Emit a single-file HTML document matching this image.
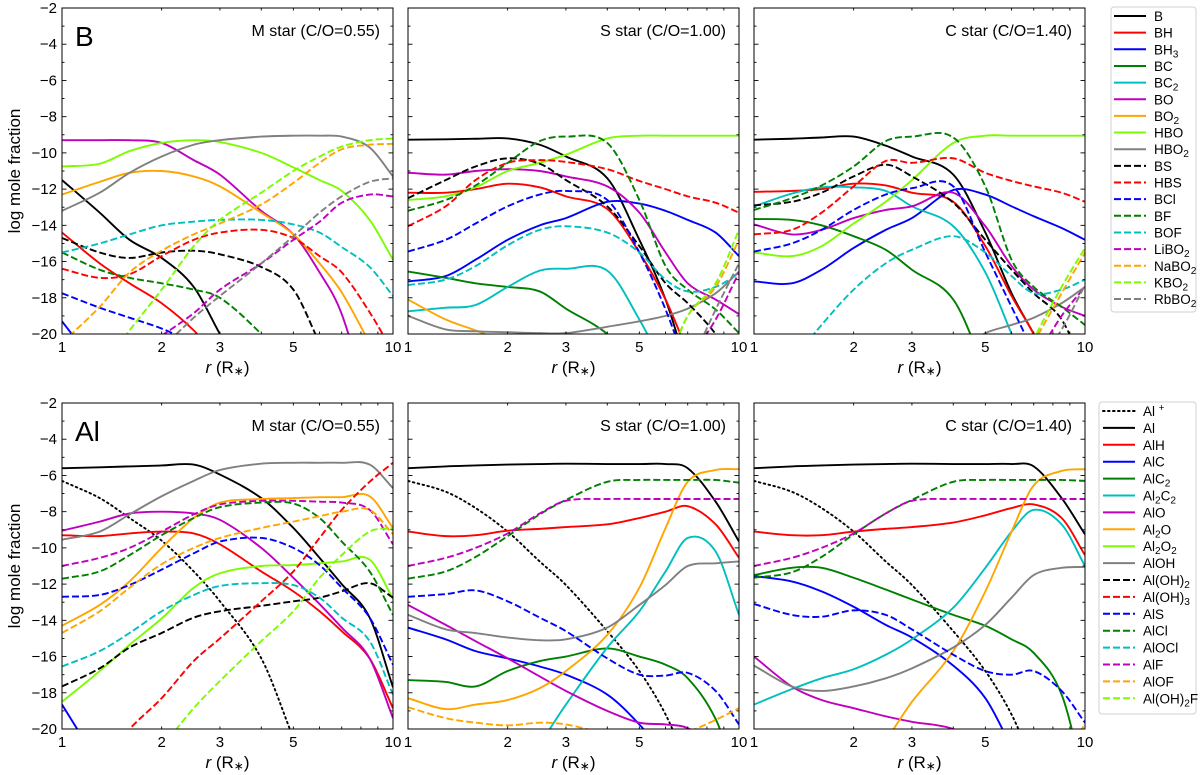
<!DOCTYPE html>
<html><head><meta charset="utf-8">
<style>
html,body{margin:0;padding:0;background:#fff;}
svg{display:block;font-family:"Liberation Sans","DejaVu Sans",sans-serif;}
</style></head>
<body>
<svg id="chart" width="1200" height="775" viewBox="0 0 1200 775" xmlns="http://www.w3.org/2000/svg"></svg>
<script>
const N = null;
const radii = [1,1.3,1.6,2,2.5,3,4,5,6,7,8.5,10];
const xTickLabels = [1,2,3,5,10];
const yTickLabels = [-2,-4,-6,-8,-10,-12,-14,-16,-18,-20];
const bSpecies = ["B","BH","BH3","BC","BC2","BO","BO2","HBO","HBO2","BS","HBS","BCl","BF","BOF","LiBO2","NaBO2","KBO2","RbBO2"];
const alSpecies = ["Al+","Al","AlH","AlC","AlC2","Al2C2","AlO","Al2O","Al2O2","AlOH","Al(OH)2","Al(OH)3","AlS","AlCl","AlOCl","AlF","AlOF","Al(OH)2F"];
const panelTitles = ["M star (C/O=0.55)","S star (C/O=1.00)","C star (C/O=1.40)"];

const boronM = [
 [-11.5,-13.3,-14.8,-15.8,-17.4,-20,-24,N,N,N,N,N],
 [-14.4,-16.1,-17.2,-18.3,-19.8,-21.5,N,N,N,N,N,N],
 [-19.3,-22,N,N,N,N,N,N,N,N,N,N],
 [N,N,N,N,N,N,N,N,N,N,N,N],
 [N,N,N,N,N,N,N,N,N,N,N,N],
 [-9.3,-9.3,-9.3,-9.45,-10.4,-11.2,-13.2,-14.5,-16.6,-18.9,-24,N],
 [-12.3,-11.6,-11.1,-11,-11.3,-11.85,-13.3,-14.5,-16.1,-17.7,-20.5,N],
 [-10.75,-10.6,-9.9,-9.45,-9.3,-9.4,-10,-10.8,-11.5,-12.1,-13.7,-15.9],
 [-13.2,-12.2,-11.1,-10.2,-9.55,-9.3,-9.1,-9.05,-9.05,-9.1,-9.7,-11.3],
 [-14.7,-15.5,-15.8,-15.5,-15.4,-15.6,-16.3,-17.55,-20.5,N,N,N],
 [-16.4,-16.9,-16.7,-15.7,-14.8,-14.4,-14.25,-14.7,-15.7,-16.6,-18.8,-21],
 [-17.75,-18.55,-19.1,-19.7,-20.5,N,N,N,N,N,N,N],
 [-15.5,-16.45,-16.9,-17.2,-17.55,-18,-20,-22,N,N,N,N],
 [-15.5,-15,-14.5,-14,-13.8,-13.7,-13.7,-13.95,-14.4,-15.2,-16.3,-17.9],
 [N,N,N,-20.1,-18.85,-17.55,-16.1,-14.8,-13.8,-12.75,-12.3,-12.4],
 [-20.5,-18.5,-16.6,-15.4,-14.5,-13.9,-12.85,-11.66,-10.55,-9.8,-9.55,-9.5],
 [N,-22,-19.8,-17.55,-15.15,-13.7,-12.2,-11,-10.2,-9.65,-9.3,-9.2],
 [N,N,N,-20.8,-19.1,-17.9,-16.1,-14.6,-13.3,-12.4,-11.6,-11.4]
];
const boronS = [
 [-9.27,-9.25,-9.22,-9.2,-9.55,-10.2,-11.4,-14.8,-18.1,-22,N,N],
 [-12.2,-12.2,-12,-11.7,-11.9,-12.4,-13.1,-15.5,-18.1,-21,N,N],
 [-17.1,-16.8,-15.9,-14.8,-14,-13.6,-12.7,-12.8,-13.2,-13.7,-14.4,-15.7],
 [-16.55,-16.9,-17.2,-17.4,-17.65,-18.6,-20,-22,N,N,N,N],
 [-18.75,-18.55,-18.4,-17.4,-16.5,-16.4,-16.5,-19.2,-22,N,N,N],
 [-11.1,-11.2,-11,-10.9,-11,-11.3,-11.85,-13.3,-15.5,-17.2,-18.1,-18.9],
 [-18.1,-19.2,-19.8,-20.5,N,N,N,N,N,N,N,N],
 [-12.6,-12.4,-11.9,-11,-10.55,-10.1,-9.2,-9.05,-9.05,-9.05,-9.05,-9.05],
 [-19,-19.75,-19.85,-19.9,-19.95,-19.95,-19.6,-19.3,-19,-18.6,-17.75,-16.55],
 [-12.5,-11.5,-10.75,-10.3,-10.6,-11.5,-12.95,-15.15,-17.2,-18.3,-20,-22],
 [-14.05,-12.95,-11.5,-10.55,-10.4,-10.5,-10.9,-11.55,-12,-12.4,-12.75,-13.3],
 [-15.45,-14.8,-13.9,-12.95,-12.3,-12.1,-12.6,-15.5,-18.65,-22,N,N],
 [-13.2,-12.6,-11.8,-10.55,-9.35,-9.1,-9.45,-12.6,-16.25,-17.55,-18.65,-19.95],
 [-17.3,-17,-16.25,-15.1,-14.25,-14.05,-14.4,-15.5,-17,-17.65,-17.4,-16.65],
 [N,N,N,N,N,N,N,N,N,-21.5,-19.2,-16.6],
 [N,N,N,N,N,N,N,N,-22,-19,-17.4,-14.8],
 [N,N,N,N,N,N,N,N,-22,-19,-17.2,-14.25],
 [N,N,N,N,N,N,N,N,N,-22,-18.65,-16.1]
];
const boronC = [
 [-9.27,-9.22,-9.15,-9.1,-9.6,-10.2,-11.2,-14.4,-17.75,-20,-23,N],
 [-12.15,-12.1,-12,-11.7,-11.8,-12.2,-12.7,-15.15,-17.9,-20,-23,N],
 [-17.1,-17.2,-16.45,-15.25,-14.25,-13.6,-12.05,-12.3,-12.95,-13.5,-14.15,-14.8],
 [-13.65,-13.7,-14,-14.6,-15.35,-16.45,-18.1,-22,N,N,N,N],
 [-12.95,-12.25,-11.9,-11.9,-12.1,-12.95,-14.05,-16.6,-20,-23,N,N],
 [-13.95,-14.5,-14.25,-13.6,-13.15,-12.95,-12.2,-14.05,-16.25,-17.55,-18.5,-19],
 [N,N,N,N,N,N,N,N,N,N,N,N],
 [-15.5,-15.7,-15.15,-13.9,-12.7,-11.5,-9.45,-9.05,-9.05,-9.05,-9.05,-9.05],
 [N,N,N,N,N,N,-21,-19.95,-19.5,-19.1,-18.3,-17.4],
 [-12.9,-12.7,-12.2,-11.3,-10.65,-11.3,-12.75,-14.8,-16.45,-17.75,-19.2,-22],
 [-14.5,-14.25,-13.3,-11.85,-10.45,-10.55,-10.3,-11.1,-11.55,-11.85,-12.2,-12.7],
 [-15.45,-15,-14.25,-13.15,-12.3,-11.95,-11.85,-15.5,-18.5,-21,N,N],
 [-13.15,-12.5,-11.8,-10.75,-9.35,-9.1,-9.15,-11.85,-15.9,-17.4,-18.5,-19.5],
 [N,-21.5,-19.5,-17.55,-16.1,-15.35,-14.6,-15.5,-16.8,-17.75,-17.55,-17],
 [N,N,N,N,N,N,N,N,N,-21.5,-19,-17.4],
 [N,N,N,N,N,N,N,N,-23,-20.5,-17.75,-15.5],
 [N,N,N,N,N,N,N,N,-23,-20.3,-17.4,-15.25],
 [N,N,N,N,N,N,N,N,N,-22,-19.75,-17.3]
];
const aluM = [
 [-6.3,-7.25,-8.35,-9.6,-11.3,-12.95,-16.1,-20.5,N,N,N,N],
 [-5.6,-5.55,-5.5,-5.45,-5.4,-5.95,-7.25,-8.9,-10.55,-12,-13.85,-17.7],
 [-9.3,-9.35,-9.2,-9.1,-9.2,-9.8,-11.3,-12.4,-13.5,-14.6,-16.1,-18.85],
 [-18.65,-22,N,N,N,N,N,N,N,N,N,N],
 [N,N,N,N,N,N,N,N,N,N,N,N],
 [N,N,N,N,N,N,N,N,N,N,N,N],
 [-9.05,-8.55,-8.1,-8,-8.1,-8.45,-10,-11.65,-13.1,-14.4,-16.1,-19.4],
 [-14.3,-13.15,-11.85,-10,-8.35,-7.5,-7.3,-7.25,-7.2,-7.2,-7.15,-8.9],
 [-18.5,-16.8,-15.35,-13.9,-12.2,-11.4,-11,-10.95,-10.85,-10.75,-10.65,-12.8],
 [-9.55,-9.1,-8.15,-7.15,-6.3,-5.7,-5.35,-5.3,-5.3,-5.3,-5.4,-6.7],
 [-17.65,-16.65,-15.5,-14.7,-13.85,-13.5,-13.2,-12.95,-12.75,-12.4,-11.95,-12.75],
 [N,-22,-20,-18.3,-16.25,-15,-12.95,-11.3,-9.45,-7.9,-6.35,-5.3],
 [-12.7,-12.6,-12.05,-11.2,-10.3,-9.65,-9.45,-10,-10.95,-12.2,-13.85,-16.45],
 [-11.7,-11.3,-10.4,-9.3,-8.35,-7.75,-7.5,-7.55,-8.35,-9.65,-11.3,-13.7],
 [-16.55,-15.7,-14.7,-13.5,-12.6,-12.1,-11.95,-12.05,-12.75,-13.85,-15.15,-18.1],
 [-11,-10.55,-10,-9.1,-8.15,-7.6,-7.4,-7.4,-7.45,-7.5,-7.9,-9.8],
 [-14.7,-13.5,-12.2,-10.9,-10,-9.45,-8.9,-8.55,-8.25,-8,-7.9,-9.25],
 [N,N,-23,-21,-18.85,-17.35,-15.15,-13.5,-11.65,-10.4,-9.1,-8.9]
];
const aluS = [
 [-6.3,-6.9,-7.8,-9.1,-10.75,-12.05,-14.6,-16.8,-19.2,-22,N,N],
 [-5.6,-5.5,-5.45,-5.4,-5.37,-5.35,-5.37,-5.37,-5.37,-5.6,-7.45,-9.65],
 [-9.1,-9.35,-9.3,-9.05,-8.95,-8.85,-8.7,-8.35,-8,-7.7,-8.7,-10.55],
 [-14.4,-15.05,-15.7,-16.1,-16.55,-17,-18.1,-19.75,-21.5,N,N,N],
 [-17.3,-17.4,-17.65,-16.8,-16.25,-16,-15.55,-16,-16.45,-17.2,-19.45,-23],
 [N,N,N,-23,-20.8,-18.65,-15.5,-13.5,-11.3,-9.45,-10.2,-13.7],
 [-13.15,-14.25,-15.15,-16.1,-17.1,-17.9,-19,-19.65,-19.75,-19.95,-21,N],
 [-18.3,-18.9,-18.65,-18.4,-17.75,-16.8,-14.8,-12.2,-8.9,-6.35,-5.7,-5.65],
 [N,N,N,N,N,N,N,N,N,N,N,N],
 [-13.7,-14.5,-14.7,-14.95,-15.1,-15.05,-14.4,-13.15,-12.05,-11,-10.85,-10.75],
 [N,N,N,N,N,N,N,N,N,N,N,N],
 [N,N,N,N,N,N,N,N,N,N,N,N],
 [-12.7,-12.55,-12.35,-12.95,-13.85,-14.6,-16.1,-17,-17.05,-16.9,-17.9,-19.75],
 [-11.7,-11.3,-10.5,-9.35,-8.15,-7.35,-6.35,-6.25,-6.25,-6.25,-6.25,-6.4],
 [N,N,N,N,N,N,N,N,N,N,N,N],
 [-11,-10.55,-10,-9.2,-8.1,-7.4,-7.3,-7.3,-7.3,-7.3,-7.3,-7.3],
 [-18.8,-19.4,-19.65,-19.8,-19.65,-19.75,-20.3,-20.8,-20.8,-20.2,-19.5,-18.85],
 [N,N,N,N,N,N,N,N,N,N,N,N]
];
const aluC = [
 [-6.3,-6.9,-7.8,-9.1,-10.75,-12.05,-14.6,-16.8,-19.2,-22,N,N],
 [-5.6,-5.5,-5.45,-5.4,-5.37,-5.35,-5.37,-5.37,-5.37,-5.5,-7.25,-9.25],
 [-9.1,-9.3,-9.3,-9.1,-8.95,-8.85,-8.6,-8.2,-7.8,-7.6,-8.35,-10.4],
 [-11.55,-11.85,-12.4,-13.25,-14.25,-14.95,-16.5,-18.3,-21,N,N,N],
 [-11.5,-11.1,-11.1,-11.65,-12.3,-12.85,-13.7,-14.3,-15.05,-15.8,-18.1,-23],
 [-18.65,-17.8,-17.2,-16.7,-15.9,-15.05,-13.3,-11.1,-9.1,-7.9,-8.7,-11],
 [-16,-17.65,-18.4,-18.85,-19.3,-19.6,-20,-21,N,N,N,N],
 [N,N,N,-22.5,-20.6,-18.5,-15.7,-12.4,-9.1,-6.55,-5.75,-5.65],
 [N,N,N,N,N,N,N,N,N,N,N,N],
 [-16.5,-17.65,-17.9,-17.65,-17.2,-16.65,-15.5,-14.25,-12.75,-11.5,-11.1,-11.05],
 [N,N,N,N,N,N,N,N,N,N,N,N],
 [N,N,N,N,N,N,N,N,N,N,N,N],
 [-13.1,-13.7,-13.8,-13.45,-13.7,-14.5,-15.9,-16.8,-17,-16.8,-17.9,-19.65],
 [-11.65,-11.35,-10.5,-9.25,-8.1,-7.35,-6.35,-6.25,-6.25,-6.25,-6.25,-6.3],
 [N,N,N,N,N,N,N,N,N,N,N,N],
 [-11,-10.55,-10,-9.2,-8.1,-7.4,-7.3,-7.3,-7.3,-7.3,-7.3,-7.3],
 [N,N,N,N,N,N,N,N,N,N,-21.5,-19.75],
 [N,N,N,N,N,N,N,N,N,N,N,N]
];

const NS = "http://www.w3.org/2000/svg";
const svg = document.getElementById('chart');
const COL = ["#000000","#ff0000","#0000ff","#008000","#00bfbf","#bf00bf","#ffa500","#7cfc00","#808080"];
function el(tag, attrs, parent){ const e=document.createElementNS(NS,tag); for(const k in attrs) e.setAttribute(k,attrs[k]); (parent||svg).appendChild(e); return e; }

function bStyle(i){ return i<9 ? {c:COL[i],d:""} : {c:COL[i-9],d:"7,3"}; }
function aStyle(i){ if(i===0) return {c:"#000",d:"1.6,3.4"}; return i<10 ? {c:COL[i-1],d:""} : {c:COL[i-10],d:"7,3"}; }

function addLabel(g, label, x, y, size, anchor){
  const t = el('text',{x:x,y:y,'font-size':size,'text-anchor':anchor||'start',fill:'#000'},g);
  if(label==="Al+"){ t.appendChild(document.createTextNode("Al ")); const s=el('tspan',{dy:-5,'font-size':size*0.72},t); s.textContent="+"; return t; }
  const parts = label.match(/[0-9]+|[^0-9]+/g);
  let sub=false;
  parts.forEach(p=>{
    const isNum=/^[0-9]+$/.test(p);
    const s=el('tspan',{},t);
    if(isNum && !sub){ s.setAttribute('dy',3); s.setAttribute('font-size',size*0.75); sub=true; }
    else if(!isNum && sub){ s.setAttribute('dy',-3); sub=false; }
    s.textContent=p;
  });
  return t;
}

function smoothPath(pts){
  const n=pts.length; if(n<2) return "";
  let d="M"+pts[0][0].toFixed(2)+","+pts[0][1].toFixed(2);
  for(let i=0;i<n-1;i++){
    const p0=pts[Math.max(0,i-1)], p1=pts[i], p2=pts[i+1], p3=pts[Math.min(n-1,i+2)];
    const h=p2[0]-p1[0];
    const m1=(p2[1]-p0[1])/(p2[0]-p0[0]);
    const m2=(p3[1]-p1[1])/(p3[0]-p1[0]);
    d+=" C"+(p1[0]+h/3).toFixed(2)+","+(p1[1]+m1*h/3).toFixed(2)+" "+(p2[0]-h/3).toFixed(2)+","+(p2[1]-m2*h/3).toFixed(2)+" "+p2[0].toFixed(2)+","+p2[1].toFixed(2);
  }
  return d;
}

let clipId=0;
function panel(x0, y0, W, H, data, names, styleFn, title, yLabels, elemLabel, pname){
  const xs = r => x0 + Math.log10(r)*W;
  const ys = v => y0 + (-2 - v)/18*H;
  const g = el('g',{});
  
  
  const cid='clip'+(clipId++);
  const cp=el('clipPath',{id:cid},g); el('rect',{x:x0,y:y0,width:W,height:H},cp);
  const lines=el('g',{'clip-path':'url(#'+cid+')'},g);
  data.forEach((vals,i)=>{
    const st=styleFn(i);
    let seg=[];
    const segs=[];
    vals.forEach((v,j)=>{ if(v===null){ if(seg.length) segs.push(seg); seg=[]; } else seg.push([xs(radii[j]),ys(v)]); });
    if(seg.length) segs.push(seg);
    segs.forEach(sg=>{
      const p=el('path',{d:smoothPath(sg),fill:'none',stroke:st.c,'stroke-width':1.9,'stroke-dasharray':st.d,'stroke-linecap':st.d.startsWith('1.6')?'round':'butt'},lines);
      
      
    });
  });
  const fr=el('rect',{x:x0,y:y0,width:W,height:H,fill:'none',stroke:'#000','stroke-width':1},g);
  
  
  for(let v=-20; v<=-2; v++){
    const y=ys(v), L=(v%2===0)?4.5:2.5;
    el('line',{x1:x0,x2:x0+L,y1:y,y2:y,stroke:'#000','stroke-width':0.9},g);
    el('line',{x1:x0+W,x2:x0+W-L,y1:y,y2:y,stroke:'#000','stroke-width':0.9},g);
  }
  for(let r=1; r<=10; r++){
    const x=xs(r), L=(r===1||r===10)?4.5:2.5;
    el('line',{x1:x,x2:x,y1:y0+H,y2:y0+H-L,stroke:'#000','stroke-width':0.9},g);
    el('line',{x1:x,x2:x,y1:y0,y2:y0+L,stroke:'#000','stroke-width':0.9},g);
  }
  xTickLabels.forEach(r=>{
    const t=el('text',{x:xs(r),y:y0+H+18,'font-size':15,'text-anchor':'middle'},g);
    t.textContent=r;
    
    
  });
  if(yLabels){
    yTickLabels.forEach(v=>{
      const t=el('text',{x:x0-5,y:ys(v)+5,'font-size':15,'text-anchor':'end'},g);
      t.textContent=String(v).replace('-','\u2212');
      
      
    });
    const yl=el('text',{x:0,y:0,'font-size':17,'text-anchor':'middle',transform:'translate(20,'+(y0+H/2)+') rotate(-90)'},g);
    yl.textContent='log mole fraction';
    
    
  }
  const xl=el('text',{x:x0+W/2,y:y0+H+39,'font-size':17,'text-anchor':'middle'},g);
  const it=el('tspan',{'font-style':'italic'},xl); it.textContent='r';
  const r2=el('tspan',{},xl); r2.textContent=' (R';
  const r3=el('tspan',{'font-size':12,dy:2},xl); r3.textContent='\u2217';
  const r4=el('tspan',{dy:-2},xl); r4.textContent=')';
  
  
  const tt=el('text',{x:x0+W-13,y:y0+28,'font-size':16,'text-anchor':'end'},g);
  tt.textContent=title;
  
  
  if(elemLabel){
    const e=el('text',{x:x0+13,y:y0+38,'font-size':28},g);
    e.textContent=elemLabel;
    
    
  }
}

const PX=[62,408,754], PW=331;
panel(PX[0],8,PW,326,boronM,bSpecies,bStyle,panelTitles[0],true,"B","panel-b-m-star");
panel(PX[1],8,PW,326,boronS,bSpecies,bStyle,panelTitles[1],false,null,"panel-b-s-star");
panel(PX[2],8,PW,326,boronC,bSpecies,bStyle,panelTitles[2],false,null,"panel-b-c-star");
panel(PX[0],403,PW,326,aluM,alSpecies,aStyle,panelTitles[0],true,"Al","panel-al-m-star");
panel(PX[1],403,PW,326,aluS,alSpecies,aStyle,panelTitles[1],false,null,"panel-al-s-star");
panel(PX[2],403,PW,326,aluC,alSpecies,aStyle,panelTitles[2],false,null,"panel-al-c-star");

function legend(x,y,w,h,names,styleFn,y0,dy,lx,pname){
  const g=el('g',{});
  
  
  el('rect',{x:x,y:y,width:w,height:h,rx:3,fill:'#fff',stroke:'#d0d0d0','stroke-width':1},g);
  names.forEach((n,i)=>{
    const st=styleFn(i), yy=y0+i*dy;
    const e=el('g',{},g);
    
    
    el('line',{x1:lx,x2:lx+32,y1:yy,y2:yy,stroke:st.c,'stroke-width':2,'stroke-dasharray':st.d,'stroke-linecap':st.d.startsWith('1.6')?'round':'butt'},e);
    addLabel(e,n,lx+40,yy+5,13.5,'start');
  });
}
legend(1111,7,85,305,bSpecies,bStyle,16,16.65,1114,"legend-boron");
legend(1099,402,97,312,alSpecies,aStyle,411,16.9,1103,"legend-aluminium");
</script>
</body></html>
